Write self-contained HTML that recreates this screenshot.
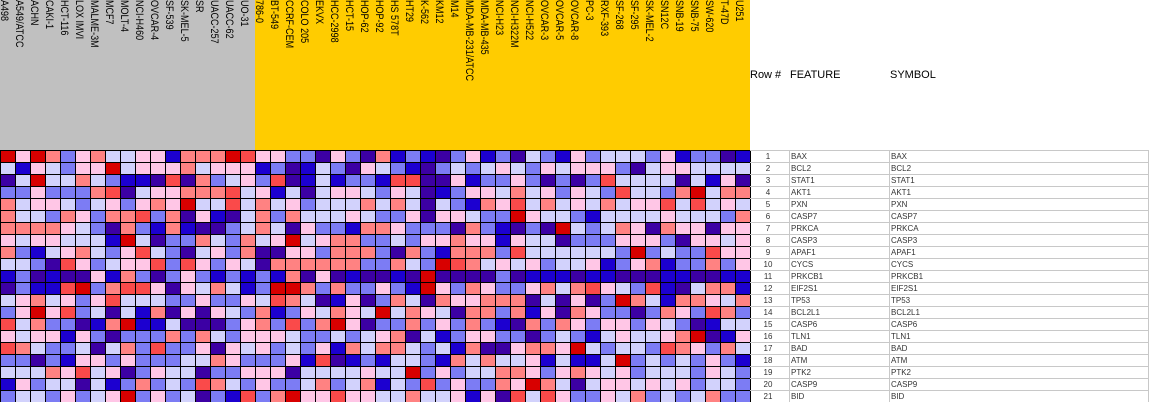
<!DOCTYPE html>
<html><head><meta charset="utf-8"><style>
html,body{margin:0;padding:0;background:#fff;}
body{width:1150px;height:402px;position:relative;overflow:hidden;font-family:"Liberation Sans",Arial,sans-serif;}
.lab{position:absolute;top:0;writing-mode:vertical-rl;font-size:11px;line-height:12px;color:#000;white-space:nowrap;transform:scaleY(0.82);transform-origin:0 0;}
.hd{position:absolute;top:69px;font-size:11px;color:#000;}
.t{position:absolute;font-size:8px;color:#333;line-height:12px;}
</style></head><body>
<div style="position:absolute;left:0;top:0;width:255px;height:150px;background:#c0c0c0"></div>
<div style="position:absolute;left:255px;top:0;width:495px;height:150px;background:#ffcc00"></div>
<div id="labs"></div>
<svg id="hm" width="1150" height="402" style="position:absolute;left:0;top:0"></svg>
<div class="hd" style="left:750px">Row #</div>
<div class="hd" style="left:790px">FEATURE</div>
<div class="hd" style="left:890px">SYMBOL</div>
<div id="tbl"></div>
<script>
var names=["A498","A549/ATCC","ACHN","CAKI-1","HCT-116","LOX IMVI","MALME-3M","MCF7","MOLT-4","NCI-H460","OVCAR-4","SF-539","SK-MEL-5","SR","UACC-257","UACC-62","UO-31","786-0","BT-549","CCRF-CEM","COLO 205","EKVX","HCC-2998","HCT-15","HOP-62","HOP-92","HS 578T","HT29","K-562","KM12","M14","MDA-MB-231/ATCC","MDA-MB-435","NCI-H23","NCI-H322M","NCI-H522","OVCAR-3","OVCAR-5","OVCAR-8","PC-3","RXF-393","SF-268","SF-295","SK-MEL-2","SN12C","SNB-19","SNB-75","SW-620","T-47D","U251"];
var h="";for(var i=0;i<50;i++){h+='<div class="lab" style="left:'+(i*15-2)+'px">'+names[i]+'</div>';}
document.getElementById("labs").innerHTML=h;
var rows=[
"RpRompollppboooRr"+"ppmmipmiobmbimpbm"+"ilmbpmlllmpbmmib",
"lbplmppRlpppolppp"+"bmiblmiplmbimlmlp"+"lmplpppmilppllllb",
"ilRllolmbbiriomlp"+"mriblbmmbrriipbmm"+"pmimimrllllilbpi",
"mmpmmmorilppooorl"+"pblilpplmplibmppl"+"olpmplmrllmoRloo",
"olpplmlpmpopRllrl"+"olpmlllololilmbop"+"rlolplolpprlrlpl",
"ollmopmoormoipbil"+"omolllplmmpipplmm"+"Rpllmbllllplllmo",
"ooooplmiombobiiml"+"olipmmboopmmmiomb"+"imiRlmlopioppipp",
"plpplllbRlimmolmo"+"lpRlpoommlmppoppb"+"pllimmmpppmipplp",
"omblpolmprlmilpmo"+"iippmooomiombooom"+"rllllllmRmlmmrpp",
"llmirpmlpprmrpmpl"+"ioooooommolmRrolp"+"lpmllpbmpobmmomp",
"bmibiipbomimpmbmb"+"mboipibiibiRiiiim"+"ibbbibbiiibbiibb",
"imbbrRmorrpiplolb"+"mRRomommpmbRpmopm"+"mpolorplmrbiloob",
"lpolpmprlllmmpmmp"+"lrolibpimolioppoo"+"oilipimRolbooplo",
"mpRprmlilboipiplm"+"obmploplRloplioom"+"obpiopmmimopmrom",
"rlommiboRbbliiimp"+"omrmoRpimmompmomb"+"iomopmppmplmibll",
"plppbpmimmmomolmp"+"pplmmlmlpoilbmppm"+"mimlmblpllpoRibp",
"rolmmlilomrmmpipl"+"pmlmpboloolmlboii"+"poopRlmllmropmol",
"mmimbppmpmmmllopm"+"mmpbribmbllmbolol"+"lpblbblRmlmlmpmb",
"lllop"+"rlpimpllimmp"+"ppillllpllRmpmllo"+"opmpoplpmlllmplm",
"bpmllilbmomlmrolm"+"pmmlomloblmrmpmmo"+"pRolilpplplpmllm",
"mllmpmlpRmpmlimbr"+"moRpprppllollpbpi"+"rlrpmmplomlmlomm"
];
var col={R:"#d80000",r:"#fa4a4a",o:"#ff8282",p:"#ffc6e6",l:"#d2d2fc",m:"#7c7cf4",b:"#1c00d0",i:"#3c00a4"};
var s="";
for(var r=0;r<21;r++){var row=rows[r];for(var c=0;c<50;c++){var ch=row.charAt(c)||"l";var f=col[ch]||"#d2d2fc";s+='<rect x="'+(c*15+0.5)+'" y="'+(150+r*12+0.5)+'" width="15" height="12" fill="'+f+'" stroke="#000" stroke-width="1"/>';}}
s+='<line x1="750" y1="150.5" x2="1149" y2="150.5" stroke="#c8c8c8"/>';
for(var r=0;r<21;r++){var y=150+(r+1)*12+0.5;s+='<line x1="750" y1="'+y+'" x2="1149" y2="'+y+'" stroke="#c8c8c8"/>';}
s+='<line x1="789.5" y1="150" x2="789.5" y2="402" stroke="#c8c8c8"/><line x1="889.5" y1="150" x2="889.5" y2="402" stroke="#c8c8c8"/><line x1="1148.5" y1="150" x2="1148.5" y2="402" stroke="#c8c8c8"/>';
document.getElementById("hm").innerHTML=s;
var g=["BAX","BCL2","STAT1","AKT1","PXN","CASP7","PRKCA","CASP3","APAF1","CYCS","PRKCB1","EIF2S1","TP53","BCL2L1","CASP6","TLN1","BAD","ATM","PTK2","CASP9","BID"];
var t="";for(var r=0;r<21;r++){var y=150+r*12+1;t+='<div class="t" style="left:762px;top:'+y+'px;width:12px;text-align:center">'+(r+1)+'</div><div class="t" style="left:791px;top:'+y+'px">'+g[r]+'</div><div class="t" style="left:891px;top:'+y+'px">'+g[r]+'</div>';}
document.getElementById("tbl").innerHTML=t;
</script>
</body></html>
